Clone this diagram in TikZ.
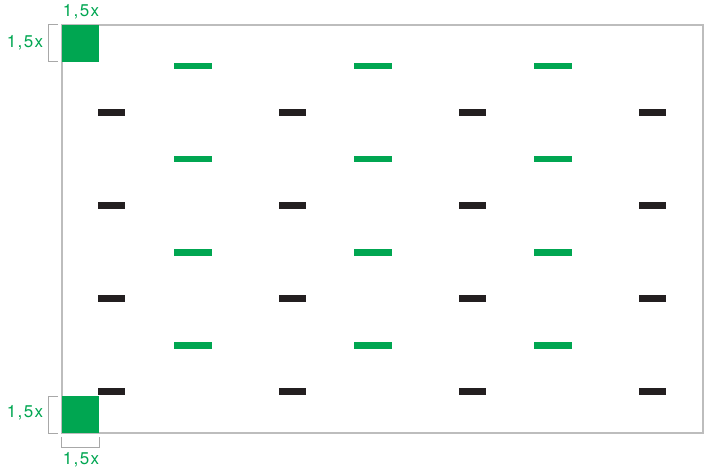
\documentclass[tikz,border=0pt]{standalone}
\usepackage{xcolor}
\usepackage{tikz}
\usepackage{fontspec}
\setmainfont{TeX Gyre Heros}

\definecolor{markgreen}{HTML}{00A651}
\definecolor{markblack}{HTML}{231F20}
\definecolor{framegray}{HTML}{BDBDBD}
\definecolor{bracketgray}{HTML}{A8A8A8}

\tikzset{
  sizelabel/.style={text=markgreen, font=\fontsize{17}{17}\selectfont\addfontfeature{LetterSpace=8}, inner sep=0pt},
  bracketline/.style={draw=bracketgray, line width=1pt},
}

\begin{document}
\begin{tikzpicture}[x=1pt, y=-1pt]

\useasboundingbox (0,0) rectangle (704,473);

\draw[framegray, line width=1.5pt] (62,25) rectangle (703,433);

% green dashes
\foreach \xa in {174,354,534}{
  \foreach \ya in {63,156,249,342}{
    \fill[markgreen] (\xa,\ya) rectangle ++(38,6.5);
  }
}

% black dashes
\foreach \xa in {98,279,459,639}{
  \foreach \ya in {109,202,295,388}{
    \fill[markblack] (\xa,\ya) rectangle ++(27,7);
  }
}

% corner squares
\fill[markgreen] (62,25) rectangle (99,62);
\fill[markgreen] (62,396) rectangle (99,433);

% brackets
\draw[bracketline] (58,25) -- (48,25) -- (48,62) -- (58,62);
\draw[bracketline] (58,396) -- (48,396) -- (48,433) -- (58,433);
\draw[bracketline] (61,437) -- (61,447) -- (99,447) -- (99,437);

\node[sizelabel] (toplabel) at (81,12) {1,5x};
\node[sizelabel] (lefttop) at (25,43) {1,5x};
\node[sizelabel] (leftbottom) at (25,413) {1,5x};
\node[sizelabel] (bottomlabel) at (81,460) {1,5x};

\end{tikzpicture}
\end{document}
